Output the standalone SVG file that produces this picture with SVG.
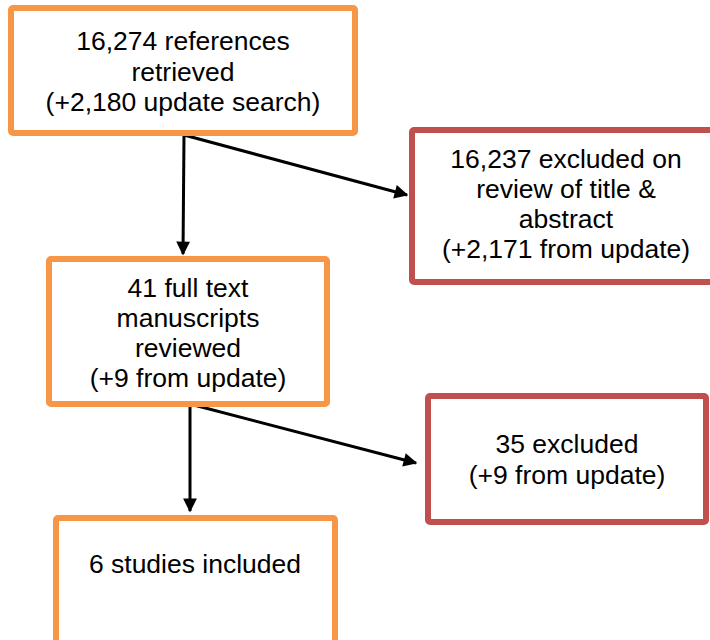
<svg xmlns="http://www.w3.org/2000/svg" width="710" height="640" viewBox="0 0 710 640">
<defs>
<style>
.box{fill:#ffffff;stroke-width:6;}
.inc{stroke:#F79646;}
.exc{stroke:#C0504D;}
.t{font-family:"Liberation Sans",Arial,sans-serif;font-size:26.5px;fill:#000;text-anchor:middle;}
.conn{stroke:#000;stroke-width:3;fill:none;marker-end:url(#ah);}
</style>
<marker id="ah" viewBox="0 0 10 10" refX="9" refY="5" markerWidth="5" markerHeight="4.6" orient="auto" markerUnits="strokeWidth">
<path d="M0,0 L10,5 L0,10 z" fill="#000"/>
</marker>
</defs>
<rect width="710" height="640" fill="#fff"/>
<g id="connectors">
<line class="conn" x1="184" y1="135" x2="183" y2="254"/>
<line class="conn" x1="184" y1="135" x2="407" y2="195"/>
<line class="conn" x1="190" y1="404" x2="190" y2="511"/>
<line class="conn" x1="190" y1="404" x2="416" y2="463"/>
</g>
<g id="n1">
<rect class="box inc" x="11" y="8" width="344" height="125" rx="2"/>
<text class="t" x="183" y="50">16,274 references</text>
<text class="t" x="183" y="81">retrieved</text>
<text class="t" x="183" y="111">(+2,180 update search)</text>
</g>
<g id="n2">
<rect class="box exc" x="412" y="130" width="308" height="152" rx="2"/>
<text class="t" x="566" y="168">16,237 excluded on</text>
<text class="t" x="566" y="198">review of title &amp;</text>
<text class="t" x="566" y="228">abstract</text>
<text class="t" x="566" y="258">(+2,171 from update)</text>
</g>
<g id="n3">
<rect class="box inc" x="49" y="259" width="278" height="145" rx="2"/>
<text class="t" x="188" y="297">41 full text</text>
<text class="t" x="188" y="327">manuscripts</text>
<text class="t" x="188" y="357">reviewed</text>
<text class="t" x="188" y="387">(+9 from update)</text>
</g>
<g id="n4">
<rect class="box exc" x="428" y="396" width="278" height="126" rx="2"/>
<text class="t" x="567" y="453">35 excluded</text>
<text class="t" x="567" y="484">(+9 from update)</text>
</g>
<g id="n5">
<rect class="box inc" x="56" y="518" width="279" height="140" rx="2"/>
<text class="t" x="195" y="573">6 studies included</text>
</g>
</svg>
